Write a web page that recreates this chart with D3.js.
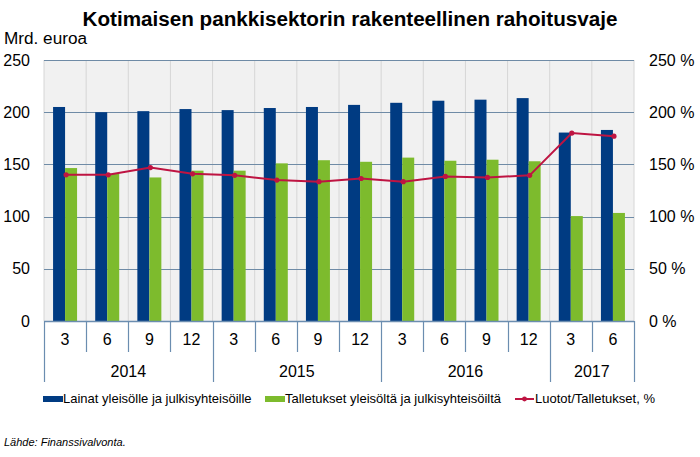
<!DOCTYPE html>
<html><head><meta charset="utf-8">
<script src="https://cdn.jsdelivr.net/npm/d3@7"></script>
<style>
html,body{margin:0;padding:0;background:#fff;}
svg{display:block;font-family:Arial,"Liberation Sans",sans-serif;}
</style></head>
<body><svg id="c" width="700" height="457"></svg>
<script>
const title = "Kotimaisen pankkisektorin rakenteellinen rahoitusvaje";
const unitLabel = "Mrd. euroa";
const source = "Lähde: Finanssivalvonta.";
const months = ["3","6","9","12","3","6","9","12","3","6","9","12","3","6"];
const years = ["2014","2015","2016","2017"];
const yearCounts = [4,4,4,2];
const lainat = [205,200,201,203,202,204,205,207,209,211,212,213.5,180.5,183];
const talletukset = [146.5,141,137.5,144,144,151,154,152.5,156.5,153.5,154.5,153,100.5,103.5];
const suhde = [140,140,147,141,139.5,135,133.5,136.5,133.5,138.5,137.5,139.5,180,177];
const leftTicks = [0,50,100,150,200,250];
const rightTicks = [0,50,100,150,200,250];
const seriesNames = ["Lainat yleisölle ja julkisyhteisöille","Talletukset yleisöltä ja julkisyhteisöiltä","Luotot/Talletukset, %"];

const C = {blue:"#003B82", green:"#7DBB2D", red:"#BE1442", grid:"#6F8BA6", vgrid:"#D6D6D6", bg:"#F1F1F1", axis:"#6B8DB0"};
const svg = d3.select("#c");
const L=44, R=634, T=60, B=321;

const x = d3.scaleBand().domain(d3.range(months.length)).range([L,R]).padding(0);
const bw = x.bandwidth();
const inner = d3.scaleBand().domain([0,1]).range([0,bw]).paddingInner(0).paddingOuter((bw/12-2)/2);
const y = d3.scaleLinear().domain([0,250]).range([B,T]);
const yr = d3.scaleLinear().domain([0,250]).range([B,T]);

// background
svg.append("rect").attr("x",L).attr("y",T).attr("width",R-L).attr("height",B-T).attr("fill",C.bg);
// vertical light grid
svg.append("g").selectAll("line").data(d3.range(months.length+1)).join("line")
  .attr("x1",i=>L+i*bw).attr("x2",i=>L+i*bw).attr("y1",T).attr("y2",B)
  .attr("stroke",C.vgrid).attr("stroke-width",1);
// horizontal grid
svg.append("g").selectAll("line").data(leftTicks.filter(d=>d>0)).join("line")
  .attr("x1",L).attr("x2",R).attr("y1",d=>Math.round(y(d))+0.5).attr("y2",d=>Math.round(y(d))+0.5)
  .attr("stroke",C.grid).attr("stroke-width",1.2);

// bars
const g = svg.append("g");
g.selectAll("rect.l").data(lainat).join("rect").attr("class","l")
  .attr("x",(d,i)=>x(i)+inner(0)).attr("width",inner.bandwidth())
  .attr("y",d=>y(d)).attr("height",d=>B-y(d)).attr("fill",C.blue);
g.selectAll("rect.t").data(talletukset).join("rect").attr("class","t")
  .attr("x",(d,i)=>x(i)+inner(1)).attr("width",inner.bandwidth())
  .attr("y",d=>y(d)).attr("height",d=>B-y(d)).attr("fill",C.green);

// line
const cx = i=>x(i)+bw/2+1;
svg.append("path").datum(suhde)
  .attr("d",d3.line().x((d,i)=>cx(i)).y(d=>yr(d)))
  .attr("fill","none").attr("stroke",C.red).attr("stroke-width",2);
svg.append("g").selectAll("circle").data(suhde).join("circle")
  .attr("cx",(d,i)=>cx(i)).attr("cy",d=>yr(d)).attr("r",2.6).attr("fill",C.red);

// left axis
const ax = svg.append("g").attr("transform",`translate(${L},0)`)
  .call(d3.axisLeft(y).tickValues(leftTicks).tickSize(0).tickPadding(14));
ax.select(".domain").remove();
ax.selectAll("text").attr("font-size",16).attr("fill","#000").attr("font-family","Arial, 'Liberation Sans', sans-serif");
const axr = svg.append("g").attr("transform",`translate(${R},0)`)
  .call(d3.axisRight(yr).tickValues(rightTicks).tickSize(0).tickPadding(15).tickFormat(d=>d+" %"));
axr.select(".domain").remove();
axr.selectAll("text").attr("font-size",16).attr("fill","#000").attr("font-family","Arial, 'Liberation Sans', sans-serif");

// x axis: month labels
const axb = svg.append("g").attr("transform",`translate(0,${B})`)
  .call(d3.axisBottom(x).tickSize(0).tickPadding(13).tickFormat(i=>months[i]));
axb.select(".domain").remove();
axb.selectAll("text").attr("font-size",16).attr("fill","#000").attr("font-family","Arial, 'Liberation Sans', sans-serif");

// x-axis table lines
const yearStarts = [0]; yearCounts.forEach((c,i)=>yearStarts.push(yearStarts[i]+c));
svg.append("line").attr("x1",L).attr("x2",R).attr("y1",B+0.5).attr("y2",B+0.5).attr("stroke",C.axis).attr("stroke-width",1.5);
svg.append("g").selectAll("line").data(d3.range(months.length+1)).join("line")
  .attr("x1",i=>Math.round(L+i*bw)+0.5).attr("x2",i=>Math.round(L+i*bw)+0.5)
  .attr("y1",B).attr("y2",i=>yearStarts.includes(i)?382:352)
  .attr("stroke",C.axis).attr("stroke-width",1.2);
// year labels
svg.append("g").selectAll("text").data(years).join("text")
  .attr("x",(d,i)=>L+bw*(yearStarts[i]+yearCounts[i]/2))
  .attr("y",377).attr("text-anchor","middle").attr("font-size",16).text(d=>d);

// title and unit
svg.append("text").attr("x",350).attr("y",26).attr("text-anchor","middle")
  .attr("font-size",20).attr("font-weight","bold").attr("textLength",535).attr("lengthAdjust","spacingAndGlyphs").text(title);
svg.append("text").attr("x",4).attr("y",44).attr("font-size",16).attr("textLength",83).attr("lengthAdjust","spacingAndGlyphs").text(unitLabel);

// legend
const lg = svg.append("g").attr("font-size",13);
const lx = [43,265,515];
lg.append("rect").attr("x",lx[0]).attr("y",396).attr("width",20).attr("height",6).attr("fill",C.blue);
lg.append("text").attr("x",lx[0]+20).attr("y",403).text(seriesNames[0]);
lg.append("rect").attr("x",lx[1]).attr("y",396).attr("width",20).attr("height",6).attr("fill",C.green);
lg.append("text").attr("x",lx[1]+20).attr("y",403).text(seriesNames[1]);
lg.append("line").attr("x1",lx[2]).attr("x2",lx[2]+19).attr("y1",399).attr("y2",399).attr("stroke",C.red).attr("stroke-width",2);
lg.append("circle").attr("cx",lx[2]+9.5).attr("cy",399).attr("r",2.4).attr("fill",C.red);
lg.append("text").attr("x",lx[2]+20).attr("y",403).text(seriesNames[2]);

svg.append("text").attr("x",4).attr("y",446).attr("font-size",11).attr("font-style","italic").text(source);
</script></body></html>
